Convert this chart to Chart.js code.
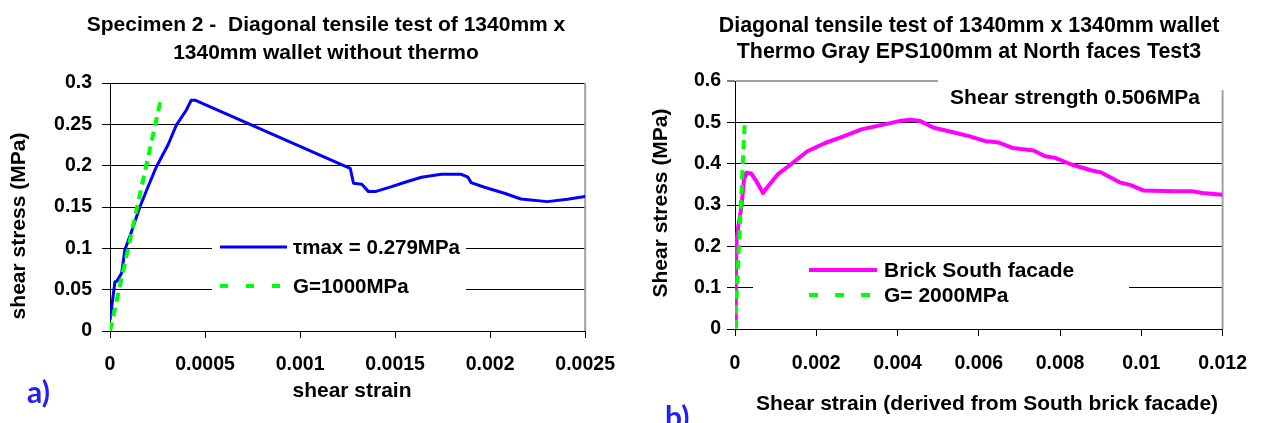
<!DOCTYPE html>
<html>
<head>
<meta charset="utf-8">
<script src="https://cdn.jsdelivr.net/npm/chart.js@4.4.1/dist/chart.umd.min.js"></script>
<style>
    html, body { margin: 0; padding: 0; background: #fff; }
    #wrap { position: relative; width: 1263px; height: 423px; overflow: hidden; }
    .panel { position: absolute; top: 0; height: 423px; }
    #leftPanel { left: 0; width: 630px; }
    #rightPanel { left: 630px; width: 633px; }
</style>
</head>
<body>
<div id="wrap">
    <div class="panel" id="leftPanel"><canvas id="leftChart" width="630" height="423"></canvas></div>
    <div class="panel" id="rightPanel"><canvas id="rightChart" width="633" height="423"></canvas></div>
</div>
<script>
// ---- a) Specimen 2, wallet without thermo ----
const leftStrain = [0, 0.0000089, 0.000026, 0.000035, 0.000061, 0.000078, 0.000113, 0.000157, 0.0002, 0.000244,
    0.000305, 0.000349, 0.000401, 0.000427, 0.00045, 0.001203, 0.001264, 0.001281, 0.001325, 0.00136,
    0.001395, 0.001482, 0.001552, 0.001639, 0.001743, 0.001848, 0.001883, 0.0019, 0.00197, 0.002075,
    0.002162, 0.002214, 0.002301, 0.002406, 0.00249, 0.0025];
const leftStress = [0.0133, 0.029, 0.0596, 0.06, 0.07, 0.098, 0.12, 0.15, 0.1745, 0.1987,
    0.225, 0.249, 0.267, 0.279, 0.279, 0.2029, 0.1968, 0.1787, 0.1775, 0.1686,
    0.1686, 0.1746, 0.1799, 0.186, 0.1896, 0.1896, 0.186, 0.1795, 0.1739, 0.1666,
    0.1597, 0.1585, 0.1565, 0.1594, 0.1625, 0.163];
const leftFitStrain = [0, 0.00027];
const leftFitStress = [0, 0.283];
const leftXTicks = ['0', '0.0005', '0.001', '0.0015', '0.002', '0.0025'];
const leftYTicks = ['0', '0.05', '0.1', '0.15', '0.2', '0.25', '0.3'];

// ---- b) Thermo Gray EPS100mm, Test3 ----
const rightStrain = [0, 0.00002, 0.00004, 0.00008, 0.00016, 0.00022, 0.00028, 0.0004, 0.00053, 0.00069,
    0.00081, 0.00105, 0.00137, 0.00178, 0.00222, 0.00267, 0.00311, 0.00368, 0.00404, 0.00432,
    0.00456, 0.00489, 0.00529, 0.00578, 0.00618, 0.00646, 0.00683, 0.00735, 0.00763, 0.00788,
    0.00828, 0.00876, 0.009, 0.00949, 0.00974, 0.01006, 0.01079, 0.01127, 0.01151, 0.012];
const rightStress = [0.006, 0.12, 0.216, 0.248, 0.297, 0.361, 0.378, 0.376, 0.357, 0.329,
    0.345, 0.374, 0.398, 0.43, 0.45, 0.466, 0.483, 0.495, 0.503, 0.506,
    0.503, 0.487, 0.478, 0.466, 0.454, 0.452, 0.438, 0.432, 0.418, 0.414,
    0.398, 0.384, 0.379, 0.354, 0.348, 0.335, 0.333, 0.333, 0.329, 0.325];
const rightFitStrain = [0, 0.00024];
const rightFitStress = [0, 0.5];
const rightXTicks = ['0', '0.002', '0.004', '0.006', '0.008', '0.01', '0.012'];
const rightYTicks = ['0', '0.1', '0.2', '0.3', '0.4', '0.5', '0.6'];

const FONT = '"Liberation Sans", Arial, sans-serif';
Chart.defaults.font.family = FONT;
Chart.defaults.color = '#000';

function toPoints(xs, ys) {
    return xs.map((x, i) => ({ x: x, y: ys[i] }));
}

function boldText(ctx, text, x, y, size, align, rotate) {
    ctx.save();
    ctx.font = 'bold ' + size + 'px ' + FONT;
    ctx.fillStyle = '#000';
    ctx.textAlign = align || 'center';
    ctx.textBaseline = 'alphabetic';
    ctx.translate(x, y);
    if (rotate) ctx.rotate(-Math.PI / 2);
    ctx.fillText(text, 0, 0);
    ctx.restore();
}

// borders, titles, legend box and panel letter
const decorPlugin = {
    id: 'decor',
    beforeDatasetsDraw(chart, args, o) {
        const { ctx, chartArea: a } = chart;
        ctx.save();
        ctx.strokeStyle = '#a0a0a0';
        ctx.lineWidth = 2;
        ctx.beginPath();
        ctx.moveTo(a.right, a.top);
        ctx.lineTo(a.right, a.bottom);
        ctx.stroke();
        ctx.restore();
    },
    afterDraw(chart, args, o) {
        const ctx = chart.ctx;
        const ds = chart.data.datasets;

        o.title.lines.forEach((t, i) => boldText(ctx, t, o.title.x, o.title.y[i], o.title.size));
        boldText(ctx, o.xTitle.text, o.xTitle.x, o.xTitle.y, 21);
        boldText(ctx, o.yTitle.text, o.yTitle.x, o.yTitle.y, 21, 'center', true);

        // legend
        const L = o.legend;
        ctx.save();
        ctx.fillStyle = '#fff';
        ctx.fillRect(L.box[0], L.box[1], L.box[2], L.box[3]);
        ctx.lineCap = 'butt';
        ctx.strokeStyle = ds[1].borderColor;
        ctx.lineWidth = ds[1].borderWidth;
        ctx.beginPath();
        ctx.moveTo(L.x0, L.rows[0]);
        ctx.lineTo(L.x1, L.rows[0]);
        ctx.stroke();
        ctx.strokeStyle = ds[0].borderColor;
        ctx.lineWidth = 4;
        ctx.setLineDash(L.dash);
        ctx.beginPath();
        ctx.moveTo(L.x0, L.rows[1]);
        ctx.lineTo(L.x1, L.rows[1]);
        ctx.stroke();
        ctx.restore();
        boldText(ctx, ds[1].label, L.tx, L.rows[0] + 7, L.size, 'left');
        boldText(ctx, ds[0].label, L.tx, L.rows[1] + 7, L.size, 'left');

        // text note
        if (o.note) {
            ctx.save();
            ctx.fillStyle = '#fff';
            ctx.fillRect(o.note.box[0], o.note.box[1], o.note.box[2], o.note.box[3]);
            ctx.restore();
            boldText(ctx, o.note.text, o.note.x, o.note.y, 21);
        }

        // panel letter
        ctx.save();
        ctx.font = 'bold 30px Lato, "Open Sans", sans-serif';
        ctx.fillStyle = '#1f1fff';
        ctx.textAlign = 'left';
        ctx.fillText(o.letter.text, o.letter.x, o.letter.y);
        ctx.restore();
    }
};

function scalesFor(xTicks, yTicks, yWidth, xHeight, yTickPad, xTickPad, topGray) {
    return {
        x: {
            type: 'linear',
            min: parseFloat(xTicks[0]),
            max: parseFloat(xTicks[xTicks.length - 1]),
            afterBuildTicks: s => { s.ticks = xTicks.map(t => ({ value: parseFloat(t) })); },
            afterFit: s => { s.height = xHeight; },
            ticks: {
                callback: (v, i) => xTicks[i],
                font: { size: 19.5, weight: 'bold' },
                padding: xTickPad,
                maxRotation: 0,
                autoSkip: false
            },
            grid: { drawOnChartArea: false, drawTicks: true, tickLength: 7, color: '#000', tickWidth: 1 },
            border: { display: true, color: '#000', width: 1 }
        },
        y: {
            type: 'linear',
            min: parseFloat(yTicks[0]),
            max: parseFloat(yTicks[yTicks.length - 1]),
            afterBuildTicks: s => { s.ticks = yTicks.map(t => ({ value: parseFloat(t) })); },
            afterFit: s => { s.width = yWidth; },
            ticks: {
                callback: (v, i) => yTicks[i],
                font: { size: 19.5, weight: 'bold' },
                padding: yTickPad,
                autoSkip: false
            },
            grid: {
                color: c => (topGray && c.index === yTicks.length - 1) ? '#a0a0a0' : '#000',
                lineWidth: c => (topGray && c.index === yTicks.length - 1) ? 2 : 1,
                tickColor: '#000',
                tickWidth: 1,
                tickLength: 8
            },
            border: { display: true, color: '#000', width: 1 }
        }
    };
}

document.addEventListener('DOMContentLoaded', function() {
    // Left chart
    const leftCtx = document.getElementById('leftChart');
    new Chart(leftCtx, {
        type: 'line',
        data: {
            datasets: [{
                label: 'G=1000MPa',
                data: toPoints(leftFitStrain, leftFitStress),
                borderColor: '#00ff00',
                borderWidth: 4,
                borderDash: [9, 6],
                pointRadius: 0,
                tension: 0
            }, {
                label: 'τmax = 0.279MPa',
                data: toPoints(leftStrain, leftStress),
                borderColor: '#0000ff',
                borderWidth: 3,
                borderJoinStyle: 'round',
                pointRadius: 0,
                tension: 0
            }]
        },
        options: {
            responsive: false,
            animation: false,
            parsing: false,
            layout: { padding: { top: 83, right: 42, bottom: 0, left: 0 } },
            scales: scalesFor(leftXTicks, leftYTicks, 110, 92, 10, 15, false),
            plugins: {
                legend: { display: false },
                tooltip: { enabled: false },
                decor: {
                    title: { lines: ['Specimen 2 -  Diagonal tensile test of 1340mm x', '1340mm wallet without thermo'], x: 326, y: [31, 59], size: 21 },
                    xTitle: { text: 'shear strain', x: 352, y: 397 },
                    yTitle: { text: 'shear stress (MPa)', x: 25, y: 226 },
                    legend: { box: [212, 228, 254, 77], x0: 220, x1: 287, tx: 293, rows: [247, 286], dash: [8, 18], size: 20.5 },
                    letter: { text: 'a)', x: 27, y: 403 }
                }
            }
        },
        plugins: [decorPlugin]
    });

    // Right chart
    const rightCtx = document.getElementById('rightChart');
    new Chart(rightCtx, {
        type: 'line',
        data: {
            datasets: [{
                label: 'G= 2000MPa',
                data: toPoints(rightFitStrain, rightFitStress),
                borderColor: '#00ff00',
                borderWidth: 4,
                borderDash: [9, 6],
                pointRadius: 0,
                tension: 0
            }, {
                label: 'Brick South facade',
                data: toPoints(rightStrain, rightStress),
                borderColor: '#ff00ff',
                borderWidth: 4,
                borderJoinStyle: 'round',
                pointRadius: 0,
                tension: 0
            }]
        },
        options: {
            responsive: false,
            animation: false,
            parsing: false,
            layout: { padding: { top: 81, right: 33, bottom: 0, left: 0 } },
            scales: scalesFor(rightXTicks, rightYTicks, 105, 94, 6, 16, true),
            plugins: {
                legend: { display: false },
                tooltip: { enabled: false },
                decor: {
                    title: { lines: ['Diagonal tensile test of 1340mm x 1340mm wallet', 'Thermo Gray EPS100mm at North faces Test3'], x: 339, y: [32, 58], size: 21.4 },
                    xTitle: { text: 'Shear strain (derived from South brick facade)', x: 357, y: 410 },
                    yTitle: { text: 'Shear stress (MPa)', x: 37, y: 203 },
                    legend: { box: [123, 256, 376, 56], x0: 179, x1: 247, tx: 254, rows: [270, 295], dash: [9, 17], size: 21 },
                    note: { text: 'Shear strength 0.506MPa', x: 445, y: 104, box: [308, 76, 296, 14] },
                    letter: { text: 'b)', x: 35, y: 428 }
                }
            }
        },
        plugins: [decorPlugin]
    });
});
</script>
</body>
</html>
